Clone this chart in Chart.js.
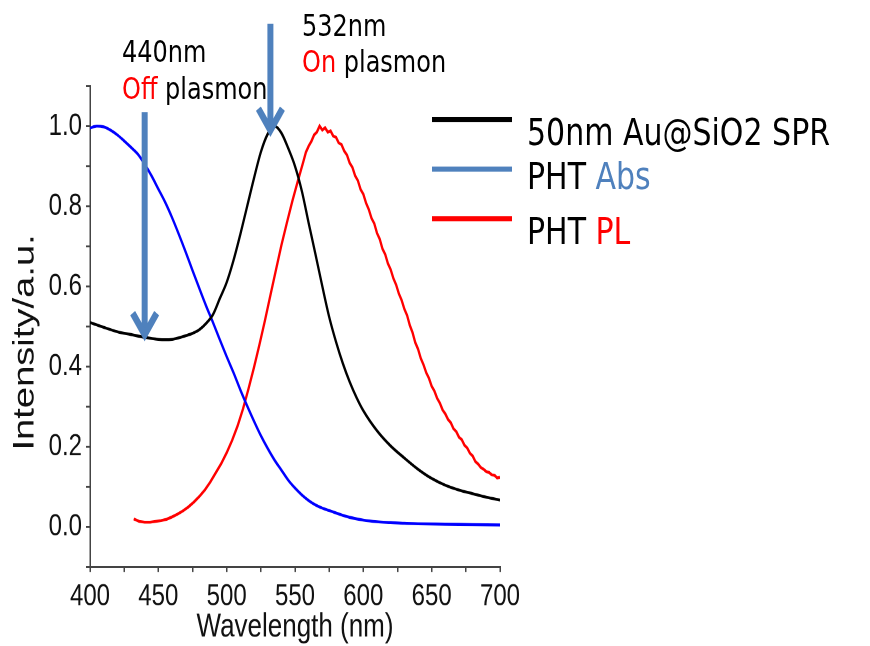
<!DOCTYPE html>
<html lang="en">
<head>
  <meta charset="UTF-8">
  <title>SPR / PHT spectra</title>
  <style>
    body {
      margin: 0;
      background: #fff;
      overflow: hidden;
    }
    .wrap {
      position: relative;
      width: 870px;
      height: 646px;
    }
    /* the chart is laid out at 870x508 and shown 646 tall */
    #spec {
      position: absolute;
      left: 0;
      top: 0;
    }
    /* notes and legend use the same 870x508 layout, stretched the same way */
    .board {
      position: absolute;
      left: 0;
      top: 0;
      width: 870px;
      height: 508px;
      transform: scaleY(1.27165);
      transform-origin: 0 0;
    }
    .note {
      position: absolute;
      font-family: 'DejaVu Sans', sans-serif;
      font-size: 24px;
      line-height: 29px;
      color: #000;
      white-space: nowrap;
    }
    .red { color: #ff0000; }
    .steel { color: #4f81bd; }
    .swatch {
      position: absolute;
      left: 432px;
      width: 80px;
      height: 4px;
    }
    .label {
      position: absolute;
      left: 527px;
      font-family: 'DejaVu Sans', sans-serif;
      font-size: 30px;
      line-height: 30px;
      color: #000;
      white-space: nowrap;
    }
  </style>
  <script src="https://cdn.jsdelivr.net/npm/chart.js"></script>
</head>
<body>
  <div class="wrap">
    <canvas id="spec" width="870" height="508" style="width:870px; height:646px;"></canvas>

    <div class="board">
      <div class="note" style="left:122px; top:27px;">440nm<br><span class="red">Off</span> plasmon</div>
      <div class="note" style="left:302px; top:6px;">532nm<br><span class="red">On</span> plasmon</div>

      <div class="swatch" style="top:91.6px; background:#000;"></div>
      <div class="label" style="top:89px;">50nm Au@SiO2 SPR</div>
      <div class="swatch" style="top:130.9px; background:#4f81bd;"></div>
      <div class="label" style="top:124px;">PHT <span class="steel">Abs</span></div>
      <div class="swatch" style="top:170.2px; background:#ff0000;"></div>
      <div class="label" style="top:167px;">PHT <span class="red">PL</span></div>
    </div>
  </div>

  <script>
    // 50nm Au@SiO2 surface plasmon resonance
    const sprNm = [400, 410, 420, 430, 440, 450, 455, 460, 465, 470, 475, 480, 485, 490, 495, 500, 505, 510, 515, 520, 525, 530, 535, 540, 545, 550, 555, 560, 565, 570, 575, 580, 585, 590, 595, 600, 610, 620, 630, 640, 650, 660, 670, 680, 690, 700];
    const sprVal = [0.51, 0.498, 0.487, 0.48, 0.473, 0.468, 0.467, 0.468, 0.472, 0.477, 0.483, 0.492, 0.508, 0.53, 0.57, 0.61, 0.665, 0.73, 0.80, 0.87, 0.935, 0.98, 1.0, 0.983, 0.945, 0.9, 0.838, 0.758, 0.68, 0.6, 0.524, 0.462, 0.408, 0.362, 0.323, 0.29, 0.24, 0.202, 0.172, 0.144, 0.121, 0.104, 0.092, 0.083, 0.074, 0.067];

    // PHT absorption
    const absNm = [400, 405, 410, 415, 420, 425, 430, 435, 440, 445, 450, 455, 460, 465, 470, 475, 480, 485, 490, 495, 500, 505, 510, 515, 520, 525, 530, 535, 540, 545, 550, 555, 560, 565, 570, 575, 580, 585, 590, 600, 610, 620, 630, 640, 660, 680, 700];
    const absVal = [0.995, 1.0, 0.998, 0.99, 0.978, 0.963, 0.947, 0.93, 0.905, 0.876, 0.843, 0.81, 0.772, 0.73, 0.686, 0.64, 0.595, 0.551, 0.51, 0.467, 0.425, 0.385, 0.342, 0.302, 0.264, 0.228, 0.196, 0.167, 0.142, 0.117, 0.097, 0.08, 0.066, 0.055, 0.047, 0.041, 0.035, 0.029, 0.024, 0.017, 0.013, 0.011, 0.009, 0.008, 0.007, 0.006, 0.005];

    // PHT photoluminescence
    const plNm = [432, 436, 440, 444, 448, 452, 456, 460, 464, 468, 472, 476, 480, 484, 488, 492, 496, 500, 504, 508, 512, 516, 520, 524, 528, 532, 536, 540, 544, 548, 552,
      556, 558, 560, 562, 564, 566, 568, 570, 572, 574, 576, 578, 580, 582, 584, 586, 588, 590, 592, 594, 596, 598, 600, 602, 604, 606, 608, 610, 612, 614, 616, 618, 620, 622, 624, 626, 628, 630,
      632, 634, 636, 638, 640, 642, 644, 646, 648, 650, 652, 654, 656, 658, 660, 662, 664, 666, 668, 670, 672, 674, 676, 678, 680, 682, 684, 686, 688, 690, 692, 694, 696, 698, 700];
    const plVal = [0.02, 0.014, 0.012, 0.012, 0.014, 0.016, 0.019, 0.025, 0.032, 0.04, 0.05, 0.062, 0.076, 0.092, 0.112, 0.135, 0.158, 0.185, 0.216, 0.252, 0.295, 0.345, 0.398, 0.455, 0.515, 0.578, 0.64, 0.702, 0.758, 0.812, 0.862,
      0.91, 0.935, 0.95, 0.962, 0.978, 0.985, 1.0, 0.99, 0.996, 0.985, 0.988, 0.975, 0.972, 0.958, 0.954, 0.938, 0.928, 0.908, 0.897, 0.876, 0.864, 0.842, 0.83, 0.808, 0.792, 0.77, 0.757, 0.733, 0.718, 0.694, 0.68, 0.657, 0.642, 0.62, 0.604, 0.582, 0.566, 0.544,
      0.528, 0.503, 0.485, 0.46, 0.444, 0.421, 0.405, 0.385, 0.371, 0.351, 0.339, 0.321, 0.309, 0.292, 0.282, 0.268, 0.26, 0.245, 0.238, 0.224, 0.218, 0.204, 0.197, 0.184, 0.177, 0.163, 0.157, 0.148, 0.144, 0.138, 0.136, 0.13, 0.129, 0.122, 0.124];

    // arrows: wavelength, tail and tip intensity
    const arrowNm = [440, 532];
    const arrowTail = [1.035, 1.255];
    const arrowTip = [0.47, 0.98];

    const toXY = (xs, ys) => xs.map((x, i) => ({ x: x, y: ys[i] }));

    const sans = "'Liberation Sans', Arial, sans-serif";

    const arrowPlugin = {
      id: 'arrows',
      afterDatasetsDraw(chart) {
        const { ctx, scales: { x, y } } = chart;
        ctx.save();
        ctx.strokeStyle = '#4f81bd';
        ctx.lineWidth = 6;
        ctx.lineJoin = 'miter';
        arrowNm.forEach((nm, i) => {
          const px = x.getPixelForValue(nm);
          const top = y.getPixelForValue(arrowTail[i]);
          const tip = y.getPixelForValue(arrowTip[i]);
          ctx.beginPath();
          ctx.moveTo(px, top);
          ctx.lineTo(px, tip - 4);
          ctx.stroke();
          ctx.beginPath();
          ctx.moveTo(px - 12, tip - 20);
          ctx.lineTo(px, tip - 3);
          ctx.lineTo(px + 12, tip - 20);
          ctx.stroke();
        });
        ctx.restore();
      }
    };

    const axisGrid = { drawOnChartArea: false, drawTicks: true, tickLength: 4, color: '#444', lineWidth: 1.5 };
    const axisBorder = { display: true, color: '#444', width: 1.5 };

    new Chart(document.getElementById('spec'), {
      type: 'line',
      data: {
        datasets: [
          { label: '50nm Au@SiO2 SPR', data: toXY(sprNm, sprVal), borderColor: '#000', borderWidth: 2.3, pointRadius: 0, cubicInterpolationMode: 'monotone' },
          { label: 'PHT Abs', data: toXY(absNm, absVal), borderColor: '#0000ff', borderWidth: 2.3, pointRadius: 0, cubicInterpolationMode: 'monotone' },
          { label: 'PHT PL', data: toXY(plNm, plVal), borderColor: '#ff0000', borderWidth: 2.3, pointRadius: 0, tension: 0 }
        ]
      },
      options: {
        responsive: false,
        maintainAspectRatio: false,
        animation: false,
        devicePixelRatio: 2,
        layout: { padding: { left: 0, right: 370, top: 67.6, bottom: 0 } },
        plugins: {
          legend: { display: false },
          tooltip: { enabled: false }
        },
        scales: {
          x: {
            type: 'linear',
            min: 400,
            max: 700,
            afterFit: (s) => { s.height = 62.1; },
            ticks: {
              stepSize: 25,
              autoSkip: false,
              maxRotation: 0,
              padding: 5,
              color: '#111',
              font: { family: sans, size: 24 },
              callback: (v) => (v % 50 === 0 ? String(v) : '')
            },
            grid: axisGrid,
            border: axisBorder,
            title: { display: true, text: 'Wavelength (nm)', color: '#111', font: { family: sans, size: 26 }, padding: { top: 0, bottom: -1 } }
          },
          y: {
            min: -0.1,
            max: 1.1,
            afterFit: (s) => { s.width = 90; },
            ticks: {
              stepSize: 0.1,
              autoSkip: false,
              padding: 4,
              color: '#111',
              font: { family: sans, size: 24 },
              callback: (v) => {
                const r = Math.round(v * 10);
                if (r < 0 || r > 10 || r % 2 !== 0) return '';
                return (r / 10).toFixed(1);
              }
            },
            grid: axisGrid,
            border: axisBorder,
            title: { display: true, text: 'Intensity/a.u.\u00a0\u00a0\u00a0', color: '#111', font: { family: sans, size: 30 }, padding: { top: 7, bottom: 0 } }
          }
        }
      },
      plugins: [arrowPlugin]
    });
  </script>
</body>
</html>
